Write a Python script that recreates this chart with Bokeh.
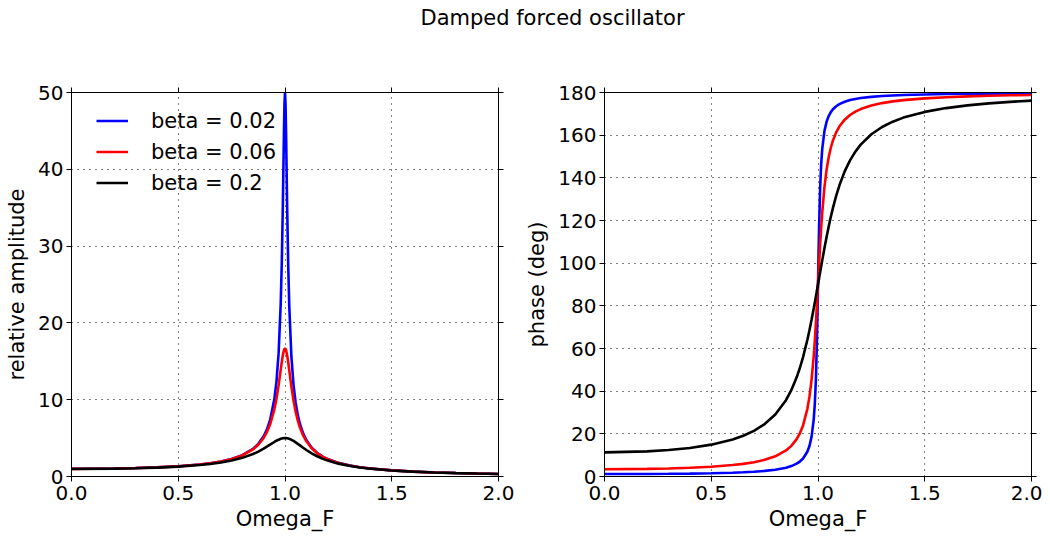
from bokeh.plotting import figure
from bokeh.models import (Range1d, LinearAxis, FixedTicker, PrintfTickFormatter,
                          CustomJSTickFormatter, Legend, LegendItem, Label)
from bokeh.layouts import column, row
from bokeh.embed import file_html
from bokeh.resources import INLINE

FONT = "DejaVu Sans"

# ---- data ----
omega = [0.0, 0.2, 0.3, 0.4, 0.5, 0.6, 0.65, 0.7, 0.75, 0.8, 0.85, 0.875, 0.9, 0.915,
         0.93, 0.95, 0.96, 0.97, 0.98, 0.985, 0.99, 0.995, 0.9975, 1.0, 1.0025, 1.005,
         1.01, 1.015, 1.02, 1.03, 1.04, 1.05, 1.06, 1.07, 1.085, 1.1, 1.125, 1.15,
         1.175, 1.2, 1.25, 1.3, 1.35, 1.4, 1.5, 1.6, 1.7, 1.8, 1.9, 2.0]

amp_002 = [1.00, 1.041, 1.099, 1.190, 1.333, 1.562, 1.731, 1.959, 2.283, 2.773, 3.594,
           4.251, 5.234, 6.098, 7.322, 10.05, 12.36, 16.03, 22.54, 27.88, 35.45, 44.74,
           48.51, 50.0, 48.50, 44.70, 35.27, 27.59, 22.18, 15.60, 11.90, 9.576, 7.987,
           6.837, 5.607, 4.740, 3.754, 3.095, 2.624, 2.270, 1.777, 1.449, 1.215, 1.041,
           0.800, 0.641, 0.529, 0.446, 0.383, 0.333]
amp_006 = [0.998, 1.040, 1.097, 1.187, 1.329, 1.556, 1.722, 1.947, 2.265, 2.740, 3.522,
           4.133, 5.019, 5.764, 6.765, 8.735, 10.13, 11.87, 13.91, 14.93, 15.82, 16.44,
           16.61, 16.67, 16.61, 16.44, 15.80, 14.88, 13.83, 11.70, 9.873, 8.420, 7.278,
           6.376, 5.345, 4.579, 3.672, 3.048, 2.595, 2.252, 1.768, 1.444, 1.213, 1.040,
           0.799, 0.641, 0.529, 0.446, 0.383, 0.333]
amp_02 = [0.981, 1.020, 1.073, 1.158, 1.288, 1.491, 1.636, 1.825, 2.079, 2.428, 2.923,
          3.246, 3.625, 3.878, 4.143, 4.494, 4.655, 4.795, 4.905, 4.946, 4.975, 4.994,
          4.998, 5.000, 4.998, 4.994, 4.975, 4.944, 4.901, 4.783, 4.630, 4.450, 4.253,
          4.049, 3.742, 3.448, 3.008, 2.635, 2.326, 2.069, 1.675, 1.392, 1.181, 1.020,
          0.790, 0.636, 0.526, 0.445, 0.382, 0.333]

phase_002 = [1.15, 1.19, 1.26, 1.36, 1.53, 1.79, 1.98, 2.25, 2.62, 3.18, 4.12, 4.88,
             6.01, 7.01, 8.42, 11.59, 14.31, 18.70, 26.79, 33.89, 45.14, 63.48, 75.98,
             90.0, 104.05, 116.62, 135.14, 146.51, 153.66, 161.82, 166.23, 168.96,
             170.81, 172.14, 173.56, 174.56, 175.69, 176.45, 176.99, 177.40, 177.96,
             178.34, 178.61, 178.81, 179.08, 179.27, 179.39, 179.49, 179.56, 179.62]
phase_006 = [3.43, 3.58, 3.77, 4.09, 4.57, 5.36, 5.93, 6.71, 7.81, 9.46, 12.20, 14.36,
             17.53, 20.23, 23.95, 31.61, 37.43, 45.43, 56.58, 63.61, 71.65, 80.56, 85.24,
             90.0, 94.77, 99.49, 108.52, 116.74, 123.96, 135.43, 143.67, 149.66, 154.10,
             157.51, 161.30, 164.05, 167.27, 169.46, 171.04, 172.23, 173.91, 175.03,
             175.83, 176.42, 177.25, 177.80, 178.18, 178.47, 178.68, 178.85]
phase_02 = [11.31, 11.77, 12.40, 13.39, 14.93, 17.35, 19.10, 21.41, 24.57, 29.05, 35.78,
            40.48, 46.47, 50.86, 55.96, 64.01, 68.59, 73.54, 78.80, 81.53, 84.32, 87.14,
            88.57, 90.0, 91.43, 92.87, 95.74, 98.59, 101.42, 106.94, 112.20, 117.13,
            121.72, 125.92, 131.54, 136.40, 143.02, 148.19, 152.28, 155.56, 160.43,
            163.84, 166.33, 168.23, 170.91, 172.69, 173.96, 174.90, 175.62, 176.19]

labels = ["beta = 0.02", "beta = 0.06", "beta = 0.2"]
colors = ["#0000ff", "#ff0000", "#000000"]
x_ticks = [0.0, 0.5, 1.0, 1.5, 2.0]
amp_ticks = [0, 10, 20, 30, 40, 50]
phase_ticks = [0, 20, 40, 60, 80, 100, 120, 140, 160, 180]

title_text = "Damped forced oscillator"
x_label = "Omega_F"
amp_label = "relative amplitude"
phase_label = "phase (deg)"


def style_axis(ax, ticks, fmt, show):
    ax.ticker = FixedTicker(ticks=ticks)
    ax.formatter = fmt
    ax.major_tick_in = 0
    ax.major_tick_out = 5
    ax.minor_tick_in = 0
    ax.minor_tick_out = 0
    ax.axis_line_color = "black"
    ax.major_tick_line_color = "black"
    ax.major_label_text_font = FONT
    ax.major_label_text_color = "black"
    ax.major_label_standoff = 3
    ax.major_label_text_font_size = "20px" if show else "0px"
    ax.axis_label_text_font = FONT
    ax.axis_label_text_font_size = "21px"
    ax.axis_label_text_font_style = "normal"
    ax.axis_label_text_color = "black"


def make_fig(y_end, yticks, ylabel, ys, bl, br, legend=False):
    p = figure(frame_width=427, frame_height=384,
               x_range=Range1d(0, 2), y_range=Range1d(0, y_end),
               min_border_left=bl, min_border_right=br,
               min_border_top=44, min_border_bottom=58,
               output_backend="svg", toolbar_location=None)
    p.outline_line_color = "black"
    p.background_fill_color = "white"
    xf = PrintfTickFormatter(format="%.1f")
    yf = PrintfTickFormatter(format="%d")
    empty = CustomJSTickFormatter(code="return ''")
    style_axis(p.xaxis[0], x_ticks, xf, True)
    style_axis(p.yaxis[0], yticks, yf, True)
    p.xaxis[0].axis_label = x_label
    p.xaxis[0].axis_label_standoff = 4
    p.xaxis[0].major_label_standoff = 4
    p.yaxis[0].axis_label = ylabel
    p.yaxis[0].axis_label_standoff = 6
    top = LinearAxis()
    style_axis(top, x_ticks, empty, False)
    p.add_layout(top, "above")
    right = LinearAxis()
    style_axis(right, yticks, empty, False)
    p.add_layout(right, "right")
    p.xgrid.ticker = FixedTicker(ticks=x_ticks)
    p.ygrid.ticker = FixedTicker(ticks=yticks)
    p.grid.grid_line_color = "black"
    p.grid.grid_line_dash = "1 5"
    p.grid.grid_line_width = 1
    rs = []
    for y, c in zip(ys, colors):
        rs.append(p.line(omega, y, line_color=c, line_width=2.6))
    if legend:
        lg = Legend(items=[LegendItem(label=l, renderers=[r]) for l, r in zip(labels, rs)],
                    location=(25, 281))
        lg.label_text_font = FONT
        lg.label_text_font_size = "21px"
        lg.label_text_color = "black"
        lg.glyph_width = 32
        lg.glyph_height = 25
        lg.label_height = 25
        lg.label_standoff = 23
        lg.spacing = 6
        lg.padding = 0
        lg.margin = 0
        lg.border_line_color = None
        lg.background_fill_alpha = 0
        p.add_layout(lg)
    return p


p1 = make_fig(50, amp_ticks, amp_label, [amp_002, amp_006, amp_02], 71, 22, legend=True)
p2 = make_fig(180, phase_ticks, phase_label, [phase_002, phase_006, phase_02], 84, 11)

t = figure(width=1042, height=48, x_range=Range1d(0, 1042), y_range=Range1d(0, 48),
           output_backend="svg", toolbar_location=None, x_axis_location=None,
           y_axis_location=None, min_border=0, outline_line_color=None)
t.grid.visible = False
t.add_layout(Label(x=552, y=31, text=title_text, text_align="center",
                   text_baseline="middle", text_font=FONT, text_font_size="21px",
                   text_color="black"))

layout = column(t, row(p1, p2))
open("out.html", "w").write(file_html(layout, INLINE))
